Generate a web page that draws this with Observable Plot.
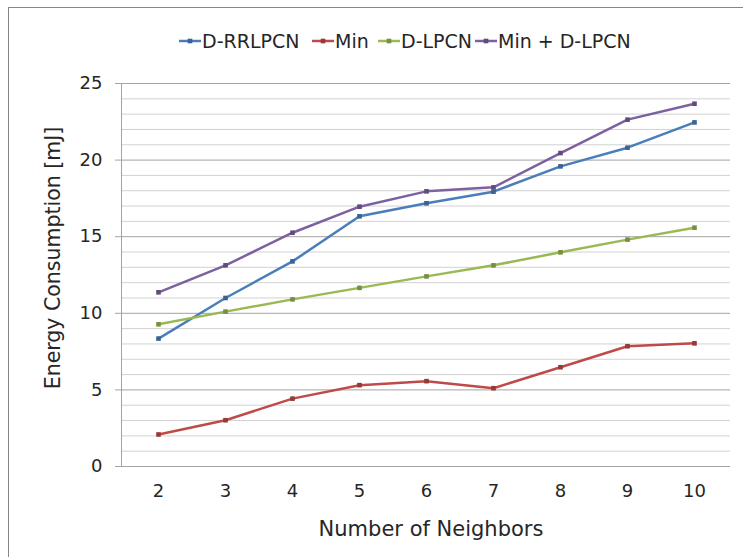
<!DOCTYPE html>
<html>
<head>
<meta charset="utf-8">
<script src="https://cdn.jsdelivr.net/npm/d3@7"></script>
<script src="https://cdn.jsdelivr.net/npm/@observablehq/plot@0.6"></script>
<style>
  html, body { margin: 0; padding: 0; background: #fff; overflow: hidden; }
  #wrap { position: relative; width: 743px; height: 557px; font-family: "DejaVu Sans", Verdana, sans-serif; color: #262626; }
  #border { position: absolute; left: 8px; top: 7px; width: 900px; height: 700px; border-left: 1px solid #868686; border-top: 1px solid #868686; }
  #chart { position: absolute; left: 0; top: 0; }
  #legend { position: absolute; left: 0; top: 28px; height: 26px; width: 743px; font-size: 19px; }
  .item { position: absolute; top: 0; display: flex; align-items: center; height: 26px; white-space: nowrap; }
  .item svg { display: block; margin-right: 1px; }
</style>
</head>
<body>
<div id="wrap">
  <div id="border"></div>
  <div id="chart"></div>
  <div id="legend"></div>
</div>
<script>
// ---- data ----
const neighbors = [2, 3, 4, 5, 6, 7, 8, 9, 10];
const seriesNames = ["D-RRLPCN", "Min", "D-LPCN", "Min + D-LPCN"];
const dRRLPCN = [8.35, 11.0, 13.39, 16.33, 17.18, 17.94, 19.59, 20.81, 22.46];
const minVals = [2.09, 3.02, 4.43, 5.31, 5.57, 5.11, 6.48, 7.85, 8.04];
const dLPCN = [9.28, 10.11, 10.91, 11.66, 12.41, 13.13, 13.98, 14.81, 15.59];
const minPlusDLPCN = [11.37, 13.13, 15.26, 16.96, 17.96, 18.22, 20.46, 22.64, 23.68];
const yTicks = [0, 5, 10, 15, 20, 25];
const yGrid = [0, 1, 2, 3, 4, 5, 6, 7, 8, 9, 10, 11, 12, 13, 14, 15, 16, 17, 18, 19, 20, 21, 22, 23, 24, 25];
const xTitle = "Number of Neighbors";
const yTitle = "Energy Consumption [mJ]";

// ---- styles ----
const colors = ["#4a7ebb", "#be4b48", "#98b954", "#7d60a0"];
const legendLefts = [179, 312, 378, 475];

const valuesBySeries = [dRRLPCN, minVals, dLPCN, minPlusDLPCN];
const rows = [];
seriesNames.forEach((s, si) => {
  neighbors.forEach((n, i) => rows.push({series: s, n, v: valuesBySeries[si][i]}));
});

const markerColor = c => d3.color(c).darker(0.7).formatHex();

const marks = [
  Plot.ruleY(yGrid.filter(v => v % 5 !== 0), {y: d => d, stroke: "#d2d2d2", strokeWidth: 1}),
  Plot.ruleY(yGrid.filter(v => v % 5 === 0), {y: d => d, stroke: "#a3a3a3", strokeWidth: 1}),
  Plot.frame({anchor: "left", stroke: "#a3a3a3"}),
  Plot.axisY({ticks: yTicks, tickSize: 6, tickPadding: 13, fontSize: 18, stroke: "#a3a3a3", tickFormat: d => String(d), label: null}),
  Plot.axisX({tickSize: 0, tickPadding: 18, fontSize: 18, label: null}),
];
seriesNames.forEach((s, si) => {
  const data = rows.filter(r => r.series === s);
  marks.push(Plot.line(data, {x: "n", y: "v", stroke: colors[si], strokeWidth: 2.5}));
  marks.push(Plot.dot(data, {x: "n", y: "v", symbol: "square", r: 2.6, fill: markerColor(colors[si]), stroke: null}));
});
marks.push(Plot.text([xTitle], {frameAnchor: "bottom", dy: 69, dx: 5, fontSize: 21, fill: "#262626"}));
marks.push(Plot.text([yTitle], {frameAnchor: "left", textAnchor: "middle", rotate: -90, dx: -68, dy: -17, fontSize: 20.5, fill: "#262626"}));

const plot = Plot.plot({
  width: 743,
  height: 557,
  marginLeft: 121,
  marginRight: 13,
  marginTop: 83,
  marginBottom: 91,
  style: {fontFamily: "DejaVu Sans, Verdana, sans-serif", color: "#262626", background: "transparent"},
  x: {type: "point", domain: neighbors, padding: 0.5},
  y: {domain: [0, 25]},
  marks
});
document.getElementById("chart").appendChild(plot);

// ---- legend ----
const legend = document.getElementById("legend");
seriesNames.forEach((s, si) => {
  const item = document.createElement("div");
  item.className = "item";
  item.style.left = legendLefts[si] + "px";
  const mc = markerColor(colors[si]);
  item.innerHTML = `<svg width="22" height="10" viewBox="0 0 22 10"><line x1="0" y1="5" x2="22" y2="5" stroke="${colors[si]}" stroke-width="2.5"/><rect x="8.7" y="2.7" width="4.6" height="4.6" fill="${mc}"/></svg><span>${s}</span>`;
  legend.appendChild(item);
});
</script>
</body>
</html>
